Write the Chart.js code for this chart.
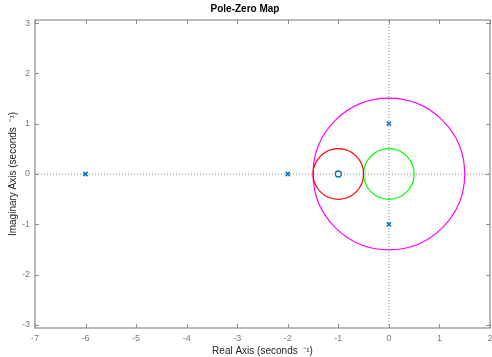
<!DOCTYPE html>
<html>
<head>
<meta charset="utf-8">
<script src="https://cdn.jsdelivr.net/npm/chart.js@4"></script>
<style>
  html, body { margin: 0; padding: 0; background: #fff; }
  #wrap { width: 492px; height: 357px; }
</style>
</head>
<body>
<div id="wrap"><canvas id="pzChart" width="492" height="357"></canvas></div>
<script>
// Axis limits
const xLimits = [-7, 2];
const yLimits = [-3.06, 3.06];

// Poles (x marks) and zeros (o marks)
const poles = [
  { x: -6, y: 0 },
  { x: -2, y: 0 },
  { x: 0, y: 1 },
  { x: 0, y: -1 }
];
const zeros = [
  { x: -1, y: 0 }
];

// Circles drawn on top: centre and radius in axis units
const circleCentres = [
  { x: -1, y: 0 },
  { x: 0, y: 0 },
  { x: 0, y: 0 }
];
const circleRadii = [0.5, 0.5, 1.5];
const circleColors = ['#ff0000', '#00ff00', '#ff00ff'];

const markerBlue = '#0072bd';
const tickGray = '#7a7a7a';
const boxGray = '#8c8c8c';

// Convert a radius in axis units to pixels through the x scale
function radiusPx(ctx, r) {
  const xs = ctx.chart.scales.x;
  if (!xs) return 0;
  return Math.abs(xs.getPixelForValue(r) - xs.getPixelForValue(0));
}

const circleSets = circleCentres.map((c, i) => ({
  type: 'scatter',
  data: [c],
  pointStyle: 'circle',
  pointRadius: ctx => radiusPx(ctx, circleRadii[i]),
  pointHoverRadius: ctx => radiusPx(ctx, circleRadii[i]),
  pointBackgroundColor: 'rgba(0,0,0,0)',
  pointBorderColor: circleColors[i],
  pointBorderWidth: 1.2,
  order: 1
}));

// Box with inward ticks on all four sides
const boxPlugin = {
  id: 'boxTicks',
  afterDatasetsDraw(chart) {
    const { ctx, chartArea: a, scales } = chart;
    ctx.save();
    ctx.strokeStyle = boxGray;
    ctx.lineWidth = 1.2;
    ctx.strokeRect(a.left, a.top, a.right - a.left, a.bottom - a.top);
    ctx.lineWidth = 1;
    const len = 4;
    scales.x.ticks.forEach(t => {
      const px = Math.round(scales.x.getPixelForValue(t.value)) + 0.5;
      ctx.beginPath();
      ctx.moveTo(px, a.bottom); ctx.lineTo(px, a.bottom - len);
      ctx.moveTo(px, a.top); ctx.lineTo(px, a.top + len);
      ctx.stroke();
    });
    scales.y.ticks.forEach(t => {
      const py = Math.round(scales.y.getPixelForValue(t.value)) + 0.5;
      ctx.beginPath();
      ctx.moveTo(a.left, py); ctx.lineTo(a.left + len, py);
      ctx.moveTo(a.right, py); ctx.lineTo(a.right - len, py);
      ctx.stroke();
    });
    ctx.restore();
  }
};

const ctx = document.getElementById('pzChart').getContext('2d');
const myChart = new Chart(ctx, {
  type: 'scatter',
  data: {
    datasets: [
      {
        type: 'line',
        data: [{ x: xLimits[0], y: 0 }, { x: xLimits[1], y: 0 }],
        borderColor: '#888',
        borderWidth: 1,
        borderDash: [1, 2],
        pointRadius: 0,
        order: 3
      },
      {
        type: 'line',
        data: [{ x: 0, y: yLimits[0] }, { x: 0, y: yLimits[1] }],
        borderColor: '#888',
        borderWidth: 1,
        borderDash: [1, 2],
        pointRadius: 0,
        order: 3
      },
      ...circleSets,
      {
        data: poles,
        pointStyle: 'crossRot',
        pointRadius: 3,
        pointBorderColor: markerBlue,
        pointBorderWidth: 1.5,
        order: 0
      },
      {
        data: zeros,
        pointStyle: 'circle',
        pointRadius: 3,
        pointBackgroundColor: '#fff',
        pointBorderColor: markerBlue,
        pointBorderWidth: 1.3,
        order: 0
      }
    ]
  },
  options: {
    responsive: false,
    animation: false,
    events: [],
    layout: { autoPadding: false, padding: { left: 0, right: 2, top: 0, bottom: 0 } },
    plugins: {
      legend: { display: false },
      tooltip: { enabled: false },
      title: {
        display: true,
        text: 'Pole-Zero Map',
        color: '#000',
        font: { family: 'Liberation Sans, Arial, sans-serif', size: 10, weight: 'bold' },
        padding: { top: 3, bottom: 5 }
      }
    },
    scales: {
      x: {
        type: 'linear',
        min: xLimits[0],
        max: xLimits[1],
        grid: { display: false, drawTicks: false },
        border: { display: false },
        ticks: {
          stepSize: 1,
          includeBounds: false,
          padding: 5,
          color: tickGray,
          font: { family: 'Liberation Sans, Arial, sans-serif', size: 9 }
        },
        title: {
          display: true,
          text: 'Real Axis (seconds  \u207B\u00B9)',
          color: '#222',
          padding: { top: 2, bottom: 0 },
          font: { family: 'Liberation Sans, Arial, sans-serif', size: 10 }
        },
        afterFit(scale) {
          scale.height = 29;
          scale.paddingRight = 0;
          scale.paddingLeft = 0;
        }
      },
      y: {
        type: 'linear',
        min: yLimits[0],
        max: yLimits[1],
        grid: { display: false, drawTicks: false },
        border: { display: false },
        ticks: {
          stepSize: 1,
          includeBounds: false,
          padding: 5,
          color: tickGray,
          font: { family: 'Liberation Sans, Arial, sans-serif', size: 9 }
        },
        title: {
          display: true,
          text: 'Imaginary Axis (seconds  \u207B\u00B9)',
          color: '#222',
          padding: { top: 7, bottom: 2 },
          font: { family: 'Liberation Sans, Arial, sans-serif', size: 10 }
        },
        afterFit(scale) {
          scale.width = 35;
          scale.paddingTop = 0;
          scale.paddingBottom = 0;
        }
      }
    }
  },
  plugins: [boxPlugin]
});
</script>
</body>
</html>
